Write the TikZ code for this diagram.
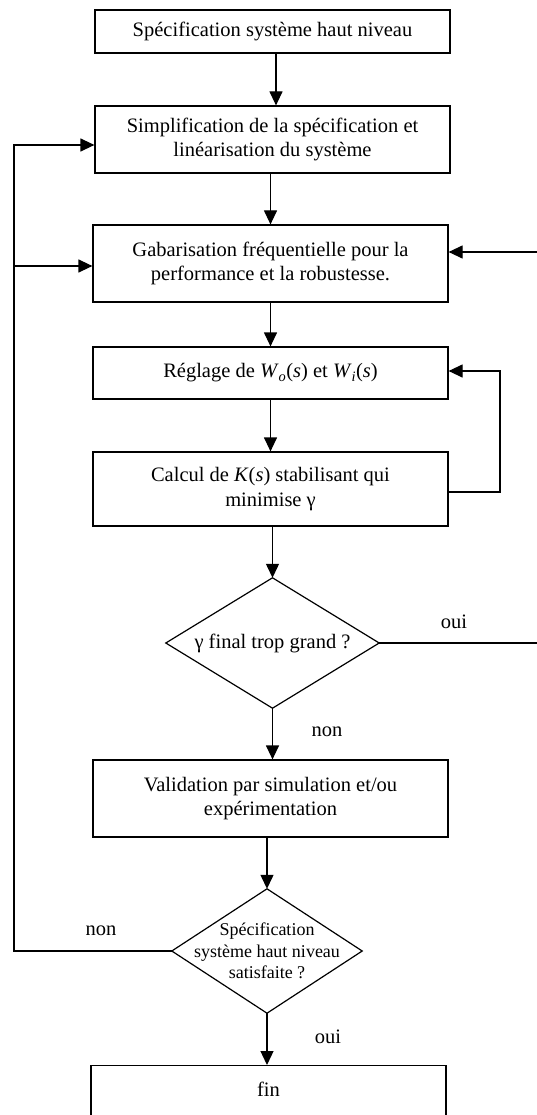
\documentclass[tikz,border=0pt]{standalone}
\usepackage{fontspec}
\setmainfont{Liberation Serif}
\usetikzlibrary{arrows.meta}
\tikzset{
  box/.style={draw, line width=1.2pt, rectangle, inner sep=0pt, align=center, minimum width=355pt},
  dec/.style={rectangle, inner sep=0pt, align=center},
  decline/.style={line width=1.2pt, line join=miter},
  arr/.style={line width=1.2pt, -{Triangle[length=14pt,width=13pt]}},
  lbl/.style={inner sep=0pt}
}
\begin{document}
\begin{tikzpicture}[x=1pt,y=-1pt,font=\fontsize{20.5}{24.5}\selectfont]
\useasboundingbox (0,0) rectangle (537,1115);
\clip (0,0) rectangle (537,1115);
\node[box, minimum height=43pt] (b1) at (272.5,31.5) {Spécification système haut niveau};
\node[box, minimum height=67pt] (b2) at (272.5,139.5) {Simplification de la spécification et\\linéarisation du système};
\node[box, minimum height=77pt] (b3) at (270.5,263.5) {Gabarisation fréquentielle pour la\\performance et la robustesse.};
\node[box, minimum height=52pt] (b4) at (270.5,373) {Réglage de \textit{W}\textsubscript{\textit{o}}(\textit{s}) et \textit{W}\textsubscript{\textit{i}}(\textit{s})};
\node[box, minimum height=74pt] (b5) at (270.5,489) {Calcul de \textit{K}(\textit{s}) stabilisant qui\\minimise γ};
\node[dec, minimum width=213pt, minimum height=130pt] (d1) at (272.5,643) {γ final trop grand ?};
\draw[decline] (d1.north) -- (d1.east) -- (d1.south) -- (d1.west) -- cycle;
\node[box, minimum height=77pt] (b6) at (270.5,798.5) {Validation par simulation et/ou\\expérimentation};
\node[dec, minimum width=190pt, minimum height=124pt, font=\fontsize{18}{21.5}\selectfont] (d2) at (267,951) {Spécification\\système haut niveau\\satisfaite ?};
\draw[decline] (d2.north) -- (d2.east) -- (d2.south) -- (d2.west) -- cycle;
\node[box, anchor=north, text height=31pt, text depth=60pt] (b7) at (268.5,1065) {fin};

\coordinate (l) at (14,0);
\coordinate (r1) at (500,0);
\coordinate (r2) at (560,0);

\draw[arr] ([xshift=3.5pt]b1.south) -- ([xshift=3.5pt]b2.north);
\draw[arr] (b2.south -| b3.north) -- (b3.north);
\draw[arr] (b3.south) -- (b4.north);
\draw[arr] (b4.south) -- (b5.north);
\draw[arr] (b5.south -| d1.north) -- (d1.north);
\draw[arr] (d1.south) -- (d1.south |- b6.north);
\draw[arr] (b6.south -| d2.north) -- (d2.north);
\draw[arr] (d2.south) -- (d2.south |- b7.north);

\draw[arr] ([yshift=-3pt]b5.east) -- ([yshift=-3pt]b5.east -| r1) |- ([yshift=2pt]b4.east);
\draw[arr] (d1.east) -- (d1.east -| r2) |- ([yshift=11.5pt]b3.east);
\draw[arr] (d2.west) -- (d2.west -| l) |- ([yshift=-5.5pt]b2.west);
\draw[arr] ([yshift=-2.5pt]b3.west -| l) -- ([yshift=-2.5pt]b3.west);

\node[lbl] (o1) at (454,622) {oui};
\node[lbl] (n1) at (327,732) {non};
\node[lbl] (n2) at (101,931) {non};
\node[lbl] (o2) at (328,1037) {oui};
\end{tikzpicture}
\end{document}
